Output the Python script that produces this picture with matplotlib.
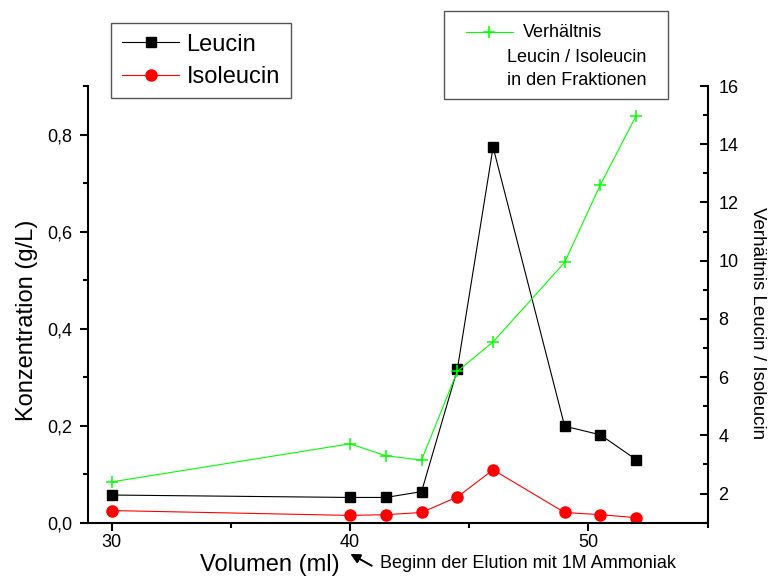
import matplotlib
matplotlib.use('Agg')
from matplotlib import pyplot as plt
from matplotlib import ticker as tk
from matplotlib.lines import Line2D
from matplotlib.patches import Rectangle

plt.rcParams['font.family'] = ['Liberation Sans', 'DejaVu Sans']

# fraction volumes (ml) and measured concentrations (g/L)
volumen = [30, 40, 41.5, 43, 44.5, 46, 49, 50.5, 52]
leucin = [0.057, 0.052, 0.052, 0.064, 0.316, 0.774, 0.199, 0.181, 0.130]
isoleucin = [0.025, 0.015, 0.0165, 0.021, 0.053, 0.109, 0.021, 0.0165, 0.0103]
# Leucin / Isoleucin ratio per fraction
verhaeltnis = [2.40, 3.71, 3.30, 3.15, 6.20, 7.21, 9.94, 12.61, 14.98]

fig = plt.figure(figsize=(7.68, 5.78), dpi=100)
ax = fig.add_axes([0.1142, 0.0957, 0.8073, 0.7555])
ax2 = ax.twinx()

ax.plot(volumen, leucin, color='k', lw=0.8, marker='s', ms=7, label='Leucin')
ax.plot(volumen, isoleucin, color='#ff0000', lw=0.8, marker='o', ms=8, label='Isoleucin')
ax2.plot(volumen, verhaeltnis, color='#00ff00', lw=0.8, marker='+', ms=9, mew=1.1)

ax.set_xlim(29, 55)
ax.set_ylim(0, 0.9)
ax2.set_ylim(1, 16)

ax.xaxis.set_major_locator(tk.MultipleLocator(10))
ax.xaxis.set_minor_locator(tk.MultipleLocator(5))
ax.yaxis.set_major_locator(tk.MultipleLocator(0.2))
ax.yaxis.set_minor_locator(tk.MultipleLocator(0.1))
ax.yaxis.set_major_formatter(tk.FuncFormatter(lambda v, p: f'{v:.1f}'.replace('.', ',')))
ax2.yaxis.set_major_locator(tk.FixedLocator([2, 4, 6, 8, 10, 12, 14, 16]))
ax2.yaxis.set_minor_locator(tk.MultipleLocator(1))

for a in (ax, ax2):
    a.spines['top'].set_visible(False)
ax.spines['right'].set_visible(False)
ax2.spines['left'].set_visible(False)
ax2.spines['bottom'].set_visible(False)
for s in ('left', 'bottom'):
    ax.spines[s].set_linewidth(1.5)
ax2.spines['right'].set_linewidth(1.5)

ax.tick_params(axis='both', which='major', direction='out', length=6, width=1.5,
               labelsize=13, pad=2.5)
ax.tick_params(axis='both', which='minor', direction='out', length=3.5, width=1.5)
ax.tick_params(axis='y', which='major', pad=5)
ax2.tick_params(axis='y', which='major', direction='in', length=6, width=1.5,
                labelsize=13, pad=7.5)
ax2.tick_params(axis='y', which='minor', direction='in', length=3.5, width=1.5)

ax.set_xlabel('Volumen (ml)', fontsize=17)
ax.xaxis.set_label_coords(0.293, -0.071)
ax.set_ylabel('Konzentration (g/L)', fontsize=17)
ax.yaxis.set_label_coords(-0.080, 0.464)
ax2.set_ylabel('Verhältnis Leucin / Isoleucin', fontsize=13.5, rotation=270, va='bottom')
ax2.yaxis.set_label_coords(1.066, 0.458)

# arrow marking the start of elution
fig.add_artist(plt.annotate('', xy=(350.7 / 768, 1 - 554 / 578), xycoords='figure fraction',
                            xytext=(371.7 / 768, 1 - 565.7 / 578),
                            textcoords='figure fraction',
                            arrowprops=dict(arrowstyle='-|>', color='k', lw=1.2,
                                            mutation_scale=14, shrinkA=0, shrinkB=0)))
fig.text(380 / 768, 1 - 567.7 / 578, 'Beginn der Elution mit 1M Ammoniak',
         fontsize=13, va='baseline', ha='left')

leg = ax.legend(loc='upper left', bbox_to_anchor=(111 / 768, 1 - 23 / 578),
                bbox_transform=fig.transFigure, fontsize=17, numpoints=1,
                handlelength=2.45, handletextpad=0.3, borderpad=0.45,
                labelspacing=0.43, borderaxespad=0, fancybox=False, framealpha=1)
leg.get_frame().set_edgecolor('#555555')
leg.get_frame().set_linewidth(1)

# ratio legend, drawn by hand so the text lines can be indented
box = Rectangle((444 / 768, 1 - 99.3 / 578), 224 / 768, 88.3 / 578,
                transform=fig.transFigure, fill=False, edgecolor='#555555', lw=1)
fig.add_artist(box)
fig.add_artist(Line2D([466 / 768, 513 / 768], [1 - 31.7 / 578, 1 - 31.7 / 578],
                      transform=fig.transFigure, color='#00ff00', lw=0.8))
fig.add_artist(Line2D([489 / 768], [1 - 31.7 / 578], transform=fig.transFigure,
                      color='#00ff00', marker='+', ms=9, mew=1.1, lw=0))
fig.text(523 / 768, 1 - 36.7 / 578, 'Verhältnis', fontsize=13, va='baseline')
fig.text(507 / 768, 1 - 61.5 / 578, 'Leucin / Isoleucin', fontsize=13, va='baseline')
fig.text(507 / 768, 1 - 85.3 / 578, 'in den Fraktionen', fontsize=13, va='baseline')

fig.savefig('out.png', dpi=100)
